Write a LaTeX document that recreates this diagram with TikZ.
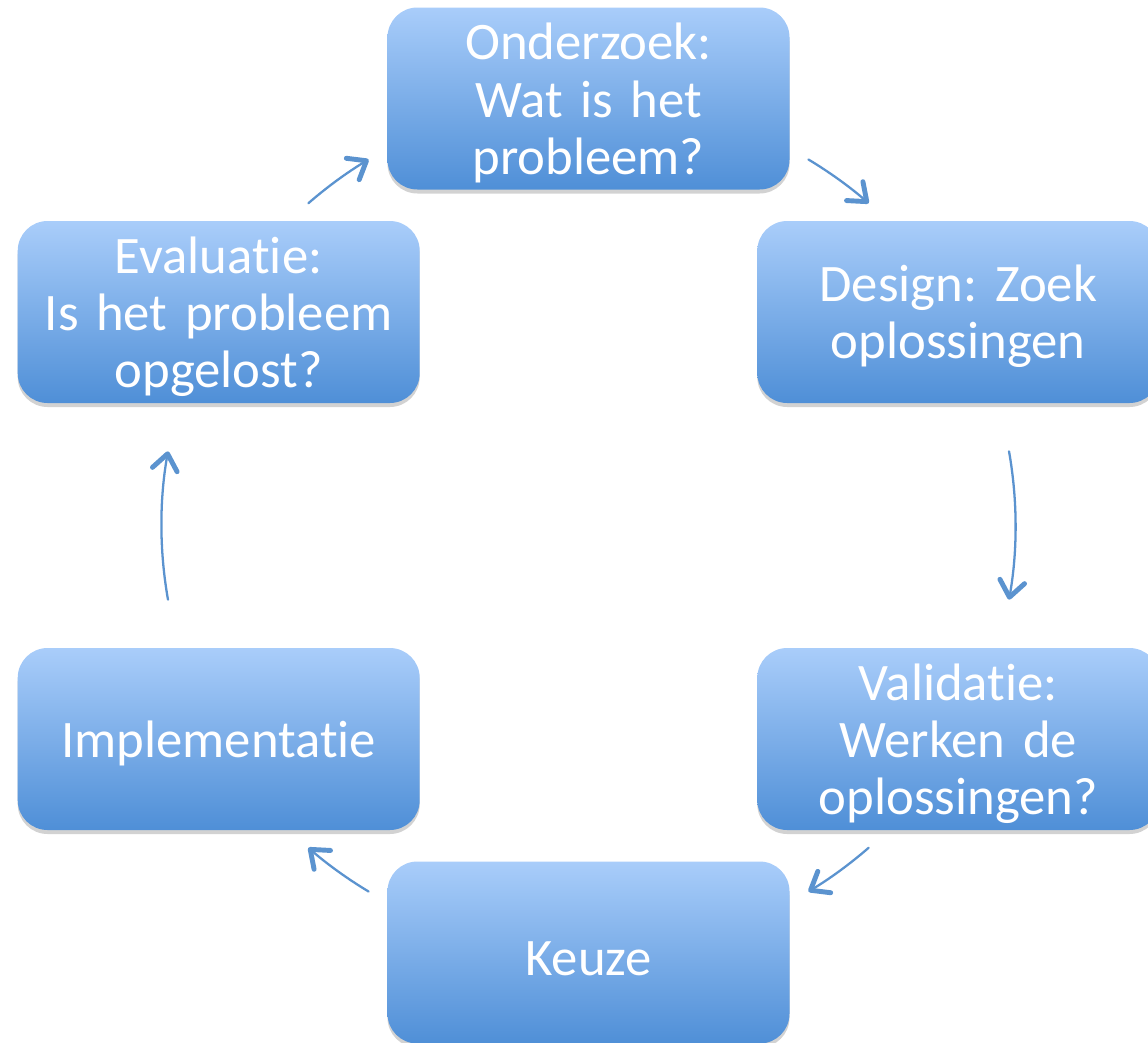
\documentclass[tikz,border=0pt]{standalone}
\usepackage{fontspec}
\setmainfont[Ligatures=NoCommon, WordSpace=0.9]{Carlito}
\usetikzlibrary{arrows.meta, shadows, positioning, calc}
\definecolor{fasetop}{HTML}{A9CDFA}
\definecolor{fasebottom}{HTML}{4F8FD7}
\definecolor{pijlblue}{HTML}{5B93CF}
\frenchspacing

\tikzset{
  fase/.style={rounded corners=17pt, minimum width=8.04cm, minimum height=3.64cm,
    text width=7.6cm, align=center, inner sep=0pt,
    top color=fasetop, bottom color=fasebottom, text=white,
    font=\fontsize{30pt}{32.5pt}\selectfont,
    execute at begin node={\rule{0pt}{26pt}},
    drop shadow={shadow xshift=0pt, shadow yshift=-0.08cm, opacity=0.25, fill=black!70}},
  pijl/.style={draw=pijlblue, line width=1.3pt, line cap=round,
    -{Straight Barb[round, length=0.32cm, width=0.5cm, line width=2.8pt]}}
}

\begin{document}
\begin{tikzpicture}[line cap=round, line join=round]

  \useasboundingbox (0,0) rectangle (22.96,-20.84);
  \clip (0,0) rectangle (22.96,-20.84);

  % middelpunt van de cyclus
  \coordinate (C) at (11.77,-10.51);
  \def\R{8.54}

  % Fasen
  \node[fase] (Ond) at ($(C)+(90:\R)$) {Onderzoek:\\Wat is het\\probleem?};
  \node[fase] (Des) at ($(C)+(30:\R)$) {Design: Zoek\\oplossingen};
  \node[fase] (Val) at ($(C)+(-30:\R)$) {Validatie:\\Werken de\\oplossingen?};
  \node[fase] (Keu) at ($(C)+(-90:\R)$) {Keuze};
  \node[fase] (Imp) at ($(C)+(-150:\R)$) {Implementatie};
  \node[fase] (Eva) at ($(C)+(150:\R)$) {Evaluatie:\\Is het probleem\\opgelost?};

  % Pijlen langs de cirkel
  \draw[pijl] ($(C)+(131:\R)$) arc[start angle=131, end angle=121, radius=\R]; % Eva -> Ond
  \draw[pijl] ($(C)+(59:\R)$) arc[start angle=59, end angle=49, radius=\R];    % Ond -> Des
  \draw[pijl] ($(C)+(10:\R)$) arc[start angle=10, end angle=-10, radius=\R];   % Des -> Val
  \draw[pijl] ($(C)+(-49:\R)$) arc[start angle=-49, end angle=-59, radius=\R]; % Val -> Keu
  \draw[pijl] ($(C)+(-121:\R)$) arc[start angle=-121, end angle=-131, radius=\R]; % Keu -> Imp
  \draw[pijl] ($(C)+(190:\R)$) arc[start angle=190, end angle=170, radius=\R]; % Imp -> Eva

\end{tikzpicture}
\end{document}
